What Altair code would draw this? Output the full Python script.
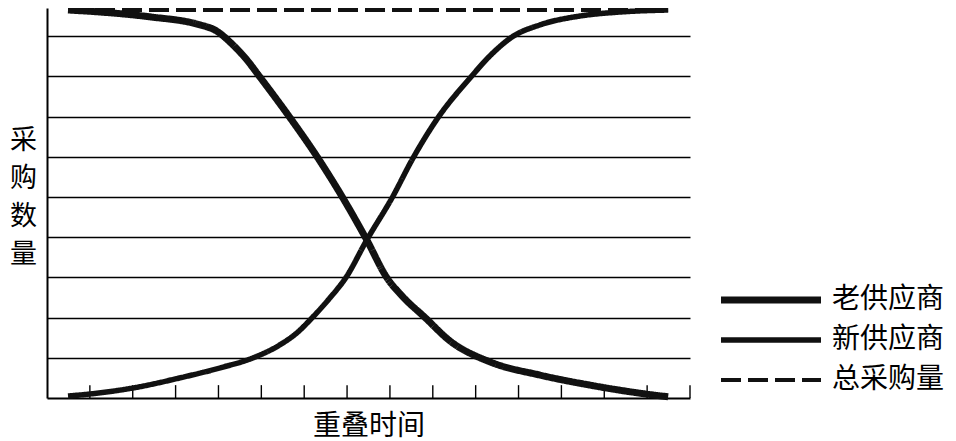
import altair as alt
import pandas as pd

# series names (legend order)
series_names = ["老供应商", "新供应商", "总采购量"]

# old supplier (thick line)
old_x = [0.49, 1.24, 2.40, 3.57, 3.92, 4.34, 4.67, 4.92, 5.67, 6.32, 6.90, 7.46,
         7.93, 8.30, 8.82, 9.40, 10.33, 11.50, 12.67, 13.83, 14.49]
old_y = [9.65, 9.60, 9.48, 9.28, 9.15, 8.78, 8.40, 8.05, 6.97, 5.97, 4.98, 3.93,
         2.99, 2.52, 2.00, 1.42, 0.90, 0.57, 0.32, 0.12, 0.03]

# new supplier (thin line)
new_x = [0.49, 1.00, 2.01, 3.10, 4.04, 4.81, 5.43, 5.83, 6.18, 6.60, 6.97, 7.46,
         8.05, 8.54, 9.12, 9.87, 10.40, 10.85, 11.50, 12.43, 13.37, 14.49]
new_y = [0.05, 0.10, 0.25, 0.50, 0.75, 1.00, 1.32, 1.62, 1.99, 2.49, 2.99, 3.93,
         4.98, 5.97, 6.97, 7.96, 8.58, 8.98, 9.28, 9.50, 9.60, 9.65]

# total purchase (dashed)
total_x = [0.49, 14.49]
total_y = [9.65, 9.65]

# axis tick positions and gridline values
tick_x = list(range(1, 16))
grid_y = list(range(1, 10))

rows = []
for name, xs, ys in [(series_names[0], old_x, old_y),
                     (series_names[1], new_x, new_y),
                     (series_names[2], total_x, total_y)]:
    for a, b in zip(xs, ys):
        rows.append({"series": name, "t": a, "q": b})
df = pd.DataFrame(rows)
ticks_df = pd.DataFrame({"t": tick_x, "y0": [0] * len(tick_x), "y1": [0.32] * len(tick_x)})

FONT = "Noto Sans CJK SC"

x_scale = alt.Scale(domain=[0, 15], nice=False, zero=False)
y_scale = alt.Scale(domain=[0, 9.70], nice=False, zero=False)

lines = alt.Chart(df).mark_line(color="#111111", interpolate="monotone").encode(
    x=alt.X("t:Q", scale=x_scale,
            axis=alt.Axis(title="重叠时间", labels=False, ticks=False, grid=False,
                          domainColor="black", domainWidth=2,
                          titleFont=FONT, titleFontSize=28, titleFontWeight="normal",
                          titleColor="black", titlePadding=14)),
    y=alt.Y("q:Q", scale=y_scale,
            axis=alt.Axis(title=["采", "购", "数", "量"], values=grid_y, labels=False,
                          ticks=False, grid=True, gridColor="black", gridWidth=1.3,
                          gridOpacity=1,
                          domainColor="black", domainWidth=2,
                          titleFont=FONT, titleFontSize=27, titleFontWeight="normal",
                          titleColor="black", titleAngle=0, titleLineHeight=38,
                          titleAlign="center", titleBaseline="middle",
                          titleX=-24, titleY=132)),
    strokeWidth=alt.StrokeWidth("series:N",
                                scale=alt.Scale(domain=series_names, range=[7, 4, 4]),
                                legend=alt.Legend(title=None)),
    strokeDash=alt.StrokeDash("series:N",
                              scale=alt.Scale(domain=series_names,
                                              range=[[1, 0], [1, 0], [20, 7]]),
                              legend=alt.Legend(title=None)),
    order=alt.Order("t:Q"),
)

tick_rules = alt.Chart(ticks_df).mark_rule(color="black", strokeWidth=1.4).encode(
    x=alt.X("t:Q", scale=x_scale),
    y=alt.Y("y0:Q", scale=y_scale),
    y2="y1:Q",
)

chart = alt.layer(tick_rules, lines).properties(
    width=643, height=390,
    autosize=alt.AutoSizeParams(type="none"),
    padding={"left": 39, "top": 0, "right": 258, "bottom": 43},
).configure_view(stroke=None).configure_legend(
    orient="none", legendX=710, legendY=278,
    symbolType="M-5,0H5", symbolSize=400, symbolStrokeColor="#111111",
    labelFont=FONT, labelFontSize=28, labelColor="black", labelLimit=0,
    labelOffset=47, rowPadding=12, padding=0,
)

chart.save("out.html", embed_options={"renderer": "svg", "actions": False})
